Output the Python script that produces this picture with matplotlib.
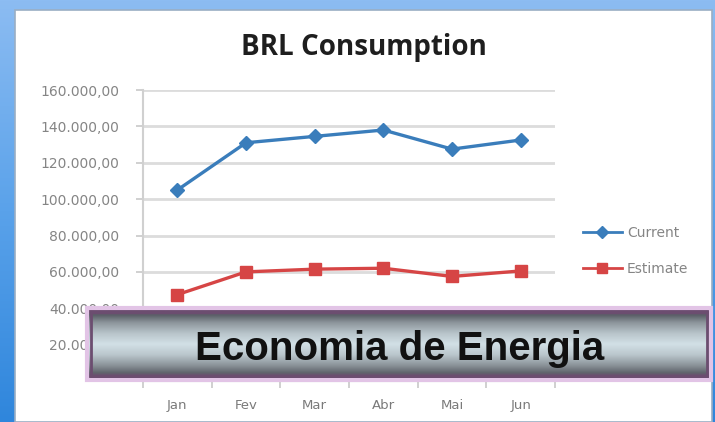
import numpy as np
import matplotlib
matplotlib.use("Agg")
import matplotlib.pyplot as plt
from matplotlib.colors import LinearSegmentedColormap
from matplotlib.patches import Rectangle
from matplotlib.ticker import FuncFormatter, FixedLocator

# data
months = ["Jan", "Fev", "Mar", "Abr", "Mai", "Jun"]
current = [105000, 131000, 134500, 138000, 127500, 132500]
estimate = [47500, 60000, 61500, 62000, 57500, 60500]
y_ticks = [0, 20000, 40000, 60000, 80000, 100000, 120000, 140000, 160000]

W, H = 715, 422


def fx(px):
    return px / W


def fy(py):
    return (H - py) / H


def brl(v, pos=None):
    """160000 -> 160.000,00 (the 0 label sits under the banner)"""
    if v == 0:
        return ""
    return "{:,.2f}".format(v).replace(",", "X").replace(".", ",").replace("X", ".")


fig = plt.figure(figsize=(W / 100, H / 100), dpi=100)

# blue slide background
bg = fig.add_axes([0, 0, 1, 1])
bg.set_axis_off()
blue = LinearSegmentedColormap.from_list("b", ["#8cbcf2", "#5aa2ea", "#2f86dc"])
bg.imshow(np.linspace(0, 1, 256).reshape(-1, 1), cmap=blue, aspect="auto",
          extent=[0, 1, 0, 1])
bg.add_patch(Rectangle((fx(15), 0), fx(712) - fx(15), fy(10), facecolor="white",
                       edgecolor="#9aaec4", linewidth=1.2))
bg.set_xlim(0, 1)
bg.set_ylim(0, 1)

# chart
ax = fig.add_axes([fx(143), fy(381), fx(555) - fx(143), fy(90) - fy(381)])
ax.set_facecolor("none")
x = np.arange(len(months))
ax.plot(x, current, color="#3a7dbb", lw=2.4, marker="D", ms=7, label="Current")
ax.plot(x, estimate, color="#d64545", lw=2.4, marker="s", ms=9, label="Estimate")

ax.set_xlim(-0.5, len(months) - 0.5)
ax.set_ylim(0, 160000)
ax.set_yticks(y_ticks)
ax.yaxis.set_major_formatter(FuncFormatter(brl))
ax.set_xticks(x)
ax.set_xticklabels(months)
ax.xaxis.set_minor_locator(FixedLocator(np.arange(-0.5, len(months), 1)))
ax.tick_params(axis="x", which="major", length=0, pad=13, labelsize=9.5,
               labelcolor="#7a7a7a")
ax.tick_params(axis="x", which="minor", length=5, color="#c8c8c8", width=1.2)
ax.tick_params(axis="y", length=5, color="#c8c8c8", width=1.2, pad=12,
               labelsize=10, labelcolor="#858585")
ax.grid(axis="y", color="#dcdcdc", lw=2)
ax.set_axisbelow(True)
for s in ["top", "right"]:
    ax.spines[s].set_visible(False)
ax.spines["left"].set_color("#d0d0d0")
ax.spines["bottom"].set_color("#d0d0d0")
ax.spines["left"].set_linewidth(1.5)

fig.text(fx(364), fy(55), "BRL Consumption", ha="center", va="baseline",
         fontsize=20, fontweight="bold", family="Open Sans", color="#1e1e1e")

leg = ax.legend(loc="upper left", bbox_to_anchor=(fx(583), fy(226)),
                bbox_transform=fig.transFigure, frameon=False, borderpad=0,
                borderaxespad=0, fontsize=10, handlelength=2.8,
                handletextpad=0.35, labelspacing=1.55, markerscale=0.85)
for t in leg.get_texts():
    t.set_color("#858585")
for h in leg.legend_handles:
    h.set_linewidth(2)

# banner on top
bn = fig.add_axes([fx(87), fy(380), fx(711) - fx(87), fy(308) - fy(380)])
bn.set_axis_off()
bn.set_xlim(0, 1)
bn.set_ylim(0, 1)
metal = LinearSegmentedColormap.from_list("m", [
    (0.0, "#6c4d70"), (0.06, "#6c4d70"), (0.1, "#5b6068"), (0.2, "#8c959b"),
    (0.35, "#b8c4ca"), (0.5, "#d2e0e6"), (0.65, "#bac6cc"), (0.8, "#8a9298"),
    (0.9, "#60646c"), (0.94, "#6c4d70"), (1.0, "#6c4d70")])
bn.imshow(np.linspace(0, 1, 256).reshape(-1, 1), cmap=metal, aspect="auto",
          extent=[0, 1, 0, 1], origin="upper")
bn.add_patch(Rectangle((0, 0), 1, 1, fill=False, edgecolor="#e2c4e6", lw=3,
                       transform=bn.transAxes, clip_on=False))
bn.add_patch(Rectangle((0.006, 0.05), 0.988, 0.9, fill=False, edgecolor="#6c4d70",
                       lw=2, transform=bn.transAxes))

fig.text(fx(400), fy(360), "Economia de Energia", ha="center", va="baseline",
         fontsize=29, fontweight="bold", family="Liberation Sans", color="#111111")

fig.savefig("out.png", dpi=100)
